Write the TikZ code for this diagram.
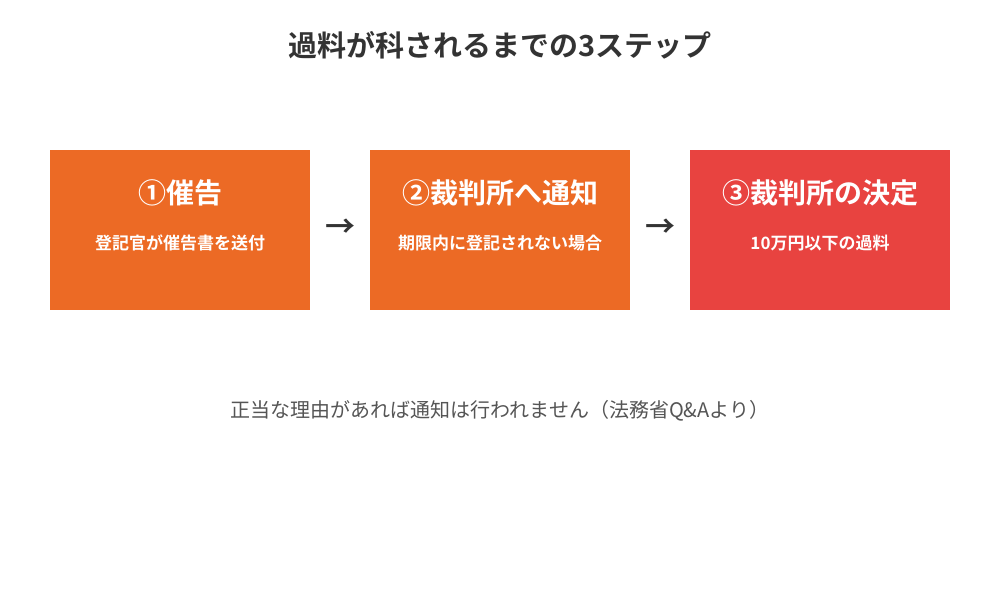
\documentclass[tikz,border=0pt]{standalone}
\usepackage{fontspec}
\newfontfamily\jp{Noto Sans CJK JP}
\newfontfamily\jpb{Noto Sans CJK JP Bold}
\definecolor{org}{HTML}{EC6A25}
\definecolor{rd}{HTML}{E84340}
\definecolor{dk}{HTML}{333333}
\definecolor{gr}{HTML}{555555}
\begin{document}
\begin{tikzpicture}[x=1pt,y=-1pt,
 box/.style={minimum width=260pt,minimum height=160pt,inner sep=0pt,anchor=north west},
 hd/.style={text=white,font=\jpb\fontsize{28}{32}\selectfont},
 sb/.style={text=white,font=\jpb\fontsize{17}{20}\selectfont},
 arr/.style={text=dk,font=\jpb\fontsize{30}{32}\selectfont}]
\useasboundingbox[fill=white] (0,0) rectangle (1000,600);
\node[text=dk,font=\jpb\fontsize{29}{34}\selectfont] (title) at (500,45) {過料が科されるまでの3ステップ};
\node[box,fill=org] (b1) at (50,150) {};
\node[box,fill=org] (b2) at (370,150) {};
\node[box,fill=rd] (b3) at (690,150) {};
\node[hd] (h1) at (180,193) {①催告};
\node[sb] (s1) at (180,243) {登記官が催告書を送付};
\node[hd] (h2) at (500,193) {②裁判所へ通知};
\node[sb] (s2) at (500,243) {期限内に登記されない場合};
\node[hd] (h3) at (820,193) {③裁判所の決定};
\node[sb] (s3) at (820,243) {10万円以下の過料};
\node[arr] (a1) at (340,228) {→};
\node[arr] (a2) at (660,228) {→};
\node[text=gr,font=\jp\fontsize{20}{24}\selectfont] (ft) at (500,411) {正当な理由があれば通知は行われません（法務省Q\&Aより）};
\end{tikzpicture}
\end{document}
